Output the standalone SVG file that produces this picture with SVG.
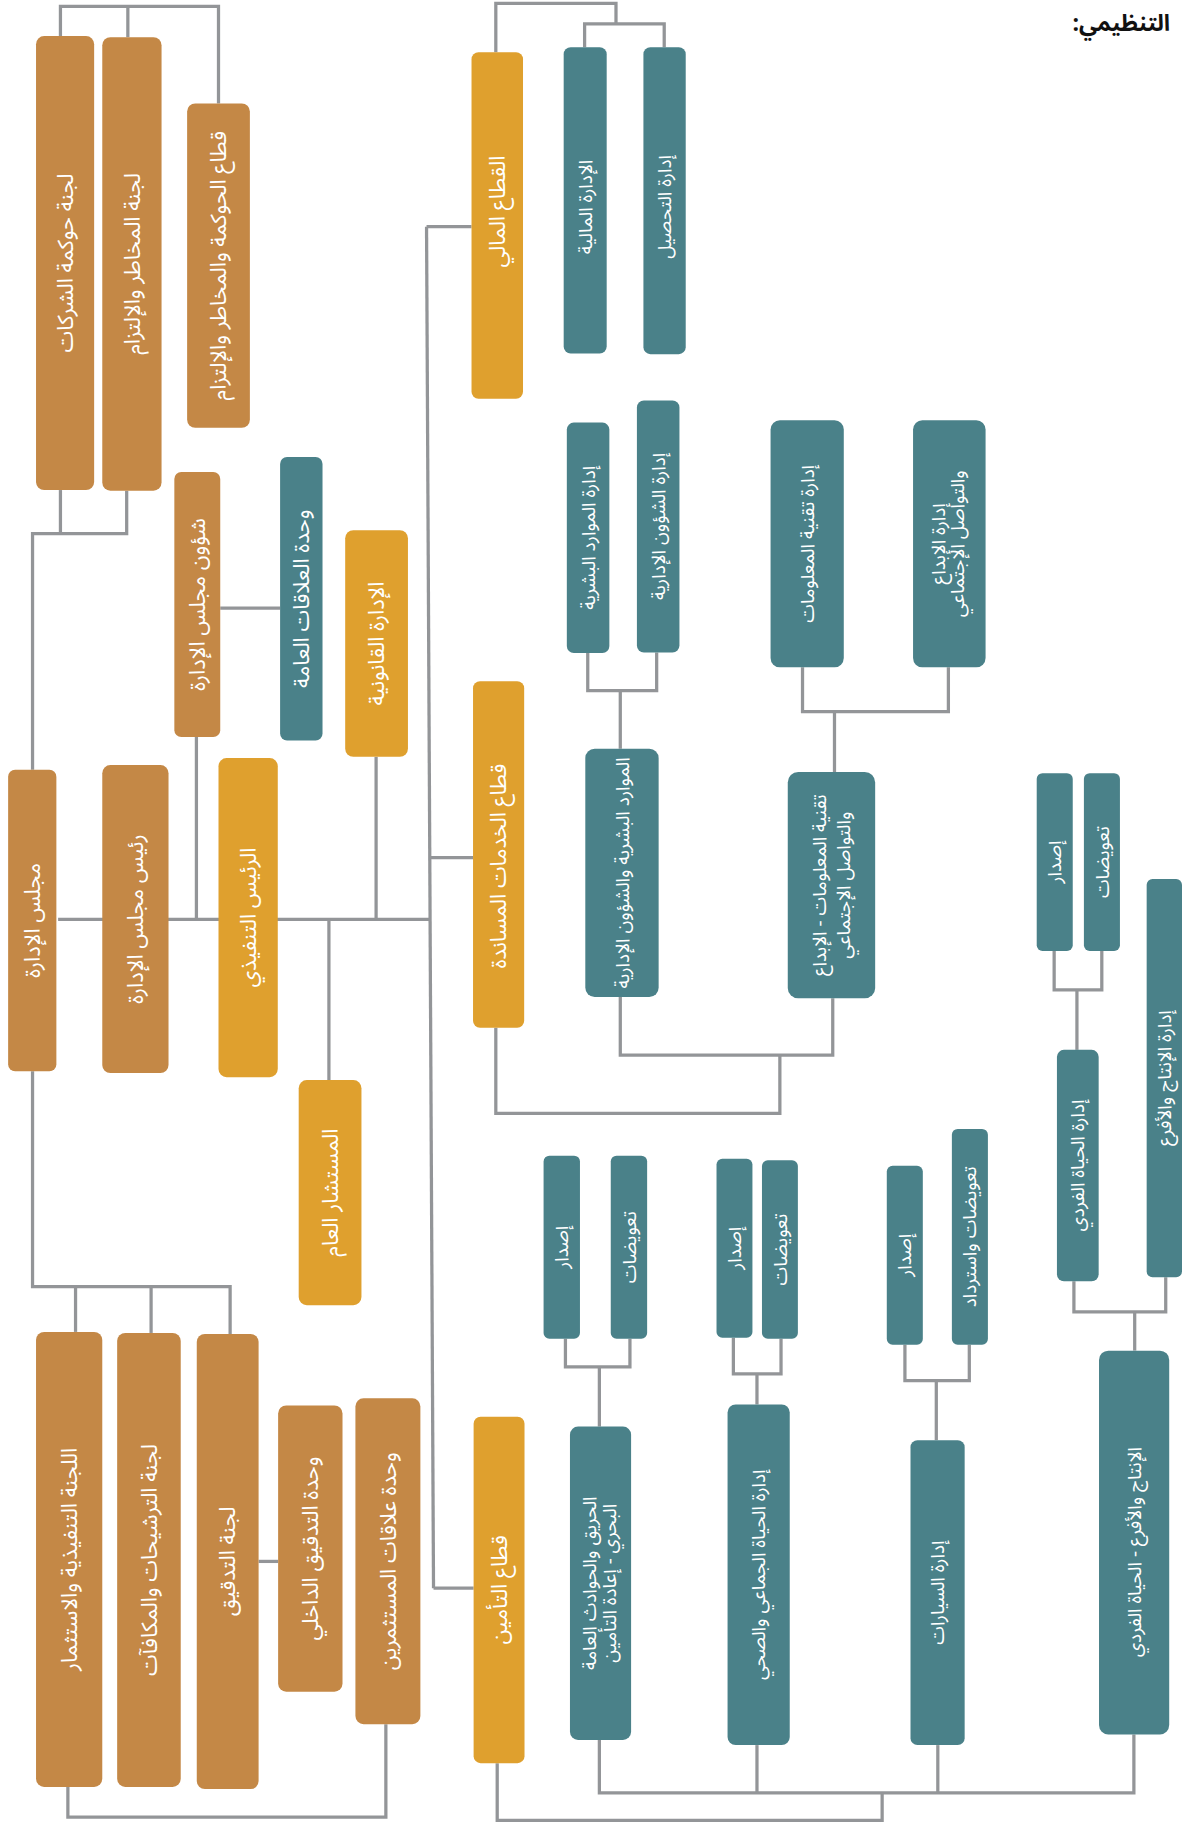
<svg xmlns="http://www.w3.org/2000/svg" width="1182" height="1823" viewBox="0 0 1182 1823">
<style>
.b{fill:#C48846}
.g{fill:#DFA02E}
.t{fill:#4A8189}
.lbl{fill:#ffffff;font-family:"Noto Sans Arabic","DejaVu Sans",sans-serif;font-size:18.8px;text-anchor:middle}
.sm{font-size:16.2px}
#connectors path{fill:none;stroke:#939598;stroke-width:2.8}
.title{fill:#111;font-family:"Noto Sans Arabic","DejaVu Sans",sans-serif;font-size:23px;font-weight:bold}
</style>
<rect width="1182" height="1823" fill="#ffffff"/>
<text class="title" x="1170" y="31" direction="rtl" text-anchor="start">التنظيمي:</text>
<g transform="scale(1.16224 1.16263)">
<g id="connectors">
<path d="M52,31 V5.5 H188 V89"/>
<path d="M110,32 V5.5"/>
<path d="M28,662 V459 H109 V422"/>
<path d="M52,421.5 V459"/>
<path d="M28,921.5 V1106.7 H198 V1147.3"/>
<path d="M65,1106.7 V1145.6"/>
<path d="M130,1106.7 V1146.5"/>
<path d="M222.5,1343 H239.3"/>
<path d="M58.4,1537 V1563 H332 V1483"/>
<path d="M50,790.8 H370"/>
<path d="M169,634 V790.8"/>
<path d="M323.6,651 V790.8"/>
<path d="M283,790.8 V929"/>
<path d="M189.5,523 H241"/>
<path d="M367,195 L373,1366"/>
<path d="M367,195 H405.7"/>
<path d="M369.7,737.6 H407"/>
<path d="M373,1366 H407.5"/>
<path d="M426.6,45 V3 H530 V20.6"/>
<path d="M503,40.7 V20.6 H571.5 V40.7"/>
<path d="M505.7,561.7 V594 H565 V561.2"/>
<path d="M533.7,594 V644"/>
<path d="M690.5,574 V612 H816 V574"/>
<path d="M718,612 V664"/>
<path d="M533.7,857.6 V907.6 H716.5 V858.7"/>
<path d="M671,907.6 V957.6 H426.6 V884"/>
<path d="M907,818 V851.5 H948 V818"/>
<path d="M926.6,851.5 V903"/>
<path d="M924,1102 V1128.3 H1003 V1098.6"/>
<path d="M976.3,1128.3 V1161.7"/>
<path d="M486.5,1151.5 V1175.6 H542 V1151.5"/>
<path d="M515.7,1175.6 V1227"/>
<path d="M631,1150.6 V1181.6 H672 V1151.5"/>
<path d="M651.3,1181.6 V1208"/>
<path d="M778.6,1156.6 V1187.6 H834 V1156.6"/>
<path d="M805.6,1187.6 V1238.7"/>
<path d="M515.7,1496.5 V1542 H975.6 V1491.8"/>
<path d="M651.3,1501 V1542"/>
<path d="M806.9,1501 V1542"/>
<path d="M759,1542 V1565.8 H427.8 V1516.5"/>
</g>

<g id="n-a"><rect class="b" x="31" y="31" width="50" height="390.5" rx="7"/><text class="lbl" dy="0.35em" transform="translate(56,226.25) rotate(-90)">لجنة حوكمة الشركات</text></g>
<g id="n-b"><rect class="b" x="88" y="32" width="51" height="390" rx="7"/><text class="lbl" dy="0.35em" transform="translate(113.5,227) rotate(-90)">لجنة المخاطر والإلتزام</text></g>
<g id="n-c"><rect class="b" x="161" y="89" width="54" height="279" rx="7"/><text class="lbl" dy="0.35em" transform="translate(188,228.5) rotate(-90)">قطاع الحوكمة والمخاطر والإلتزام</text></g>
<g id="n-d"><rect class="b" x="7" y="662" width="41.5" height="259.5" rx="6"/><text class="lbl" dy="0.35em" transform="translate(27.75,791.75) rotate(-90)">مجلس الإدارة</text></g>
<g id="n-e"><rect class="b" x="88" y="658" width="57" height="265" rx="7"/><text class="lbl" dy="0.35em" transform="translate(116.5,790.5) rotate(-90)">رئيس مجلس الإدارة</text></g>
<g id="n-f"><rect class="g" x="188" y="652" width="51" height="274.5" rx="7"/><text class="lbl" dy="0.35em" transform="translate(213.5,789.25) rotate(-90)">الرئيس التنفيذي</text></g>
<g id="n-g"><rect class="b" x="150" y="406" width="39.5" height="228" rx="6"/><text class="lbl" dy="0.35em" transform="translate(169.75,520) rotate(-90)">شؤون مجلس الإدارة</text></g>
<g id="n-h"><rect class="t" x="241" y="393" width="36.5" height="244" rx="6"/><text class="lbl" dy="0.35em" transform="translate(259.25,515) rotate(-90)">وحدة العلاقات العامة</text></g>
<g id="n-i"><rect class="g" x="297" y="456" width="54" height="195" rx="7"/><text class="lbl" dy="0.35em" transform="translate(324,553.5) rotate(-90)">الإدارة القانونية</text></g>
<g id="n-j"><rect class="g" x="407" y="586" width="44" height="298" rx="6"/><text class="lbl" dy="0.35em" transform="translate(429,745) rotate(-90)">قطاع الخدمات المساندة</text></g>
<g id="n-k"><rect class="g" x="257" y="929" width="54" height="193.6" rx="7"/><text class="lbl" dy="0.35em" transform="translate(284,1025.8) rotate(-90)">المستشار العام</text></g>
<g id="n-l"><rect class="g" x="405.7" y="45" width="44.3" height="298" rx="6"/><text class="lbl" dy="0.35em" transform="translate(427.85,182) rotate(-90)">القطاع المالي</text></g>
<g id="n-m"><rect class="t" x="485" y="40.7" width="37" height="263.3" rx="6"/><text class="lbl sm" dy="0.35em" transform="translate(503.5,178) rotate(-90)">الإدارة المالية</text></g>
<g id="n-n"><rect class="t" x="553.6" y="40.7" width="36.4" height="263.9" rx="6"/><text class="lbl sm" dy="0.35em" transform="translate(571.8,178) rotate(-90)">إدارة التحصيل</text></g>
<g id="n-o"><rect class="t" x="487.7" y="363.5" width="36.6" height="198.2" rx="6"/><text class="lbl sm" dy="0.35em" transform="translate(506,462.6) rotate(-90)">إدارة الموارد البشرية</text></g>
<g id="n-p"><rect class="t" x="548" y="344.4" width="36.6" height="216.8" rx="6"/><text class="lbl sm" dy="0.35em" transform="translate(566.3,452.8) rotate(-90)">إدارة الشؤون الإدارية</text></g>
<g id="n-q"><rect class="t" x="503.6" y="644" width="63.1" height="213.6" rx="8"/><text class="lbl sm" dy="0.35em" transform="translate(535.15,750.8) rotate(-90)">الموارد البشرية والشؤون الإدارية</text></g>
<g id="n-r"><rect class="t" x="663" y="361.5" width="63" height="212.5" rx="8"/><text class="lbl sm" dy="0.35em" transform="translate(694.5,467.75) rotate(-90)">إدارة تقنية المعلومات</text></g>
<g id="n-s"><rect class="t" x="785.6" y="361.5" width="62.4" height="212.5" rx="8"/><text class="lbl sm" transform="translate(816.8,467.75) rotate(-90)"><tspan x="0" dy="-0.25em">إدارة الإبداع</tspan><tspan x="0" dy="1.05em">والتواصل الإجتماعي</tspan></text></g>
<g id="n-t"><rect class="t" x="677.8" y="664" width="75.2" height="194.7" rx="9"/><text class="lbl sm" transform="translate(715.4,761.35) rotate(-90)"><tspan x="0" dy="-0.3em">تقنية المعلومات - الإبداع</tspan><tspan x="0" dy="1.3em">والتواصل الإجتماعي</tspan></text></g>
<g id="n-u"><rect class="t" x="892" y="665" width="31" height="153" rx="5"/><text class="lbl sm" dy="0.35em" transform="translate(907.5,741.5) rotate(-90)">إصدار</text></g>
<g id="n-v"><rect class="t" x="932.6" y="665" width="31" height="153" rx="5"/><text class="lbl sm" dy="0.35em" transform="translate(948.1,741.5) rotate(-90)">تعويضات</text></g>
<g id="n-w"><rect class="t" x="909.4" y="903" width="35.9" height="199" rx="6"/><text class="lbl sm" dy="0.35em" transform="translate(927.35,1002.5) rotate(-90)">إدارة الحياة الفردي</text></g>
<g id="n-x"><rect class="t" x="986.6" y="756" width="30.4" height="342.6" rx="5"/><text class="lbl sm" dy="0.35em" transform="translate(1001.8,927.3) rotate(-90)">إدارة الإنتاج والأفرع</text></g>
<g id="n-y"><rect class="t" x="945.6" y="1161.7" width="60.4" height="330.1" rx="8"/><text class="lbl sm" dy="0.35em" transform="translate(975.8,1335) rotate(-90)">الإنتاج والأفرع - الحياة الفردي</text></g>
<g id="n-z1"><rect class="t" x="467.7" y="994" width="31.3" height="157.5" rx="5"/><text class="lbl sm" dy="0.35em" transform="translate(483.35,1072.75) rotate(-90)">إصدار</text></g>
<g id="n-z2"><rect class="t" x="525.5" y="994" width="31.3" height="157.5" rx="5"/><text class="lbl sm" dy="0.35em" transform="translate(541.15,1072.75) rotate(-90)">تعويضات</text></g>
<g id="n-aa"><rect class="t" x="490.4" y="1227" width="52.6" height="269.5" rx="7"/><text class="lbl sm" transform="translate(516.7,1361.75) rotate(-90)"><tspan x="0" dy="-0.25em">الحريق والحوادث العامة</tspan><tspan x="0" dy="1.05em">البحري - إعادة التأمين</tspan></text></g>
<g id="n-ab1"><rect class="t" x="616.5" y="996.7" width="30.9" height="153.9" rx="5"/><text class="lbl sm" dy="0.35em" transform="translate(631.95,1073.65) rotate(-90)">إصدار</text></g>
<g id="n-ab2"><rect class="t" x="655.6" y="998" width="30.9" height="153.5" rx="5"/><text class="lbl sm" dy="0.35em" transform="translate(671.05,1074.75) rotate(-90)">تعويضات</text></g>
<g id="n-ac"><rect class="t" x="626" y="1208" width="53.5" height="293" rx="7"/><text class="lbl sm" dy="0.35em" transform="translate(652.75,1354.5) rotate(-90)">إدارة الحياة الجماعي والصحي</text></g>
<g id="n-ad1"><rect class="t" x="763" y="1002.7" width="31" height="153.9" rx="5"/><text class="lbl sm" dy="0.35em" transform="translate(778.5,1079.65) rotate(-90)">إصدار</text></g>
<g id="n-ad2"><rect class="t" x="819" y="971" width="31" height="185.6" rx="5"/><text class="lbl sm" dy="0.35em" transform="translate(834.5,1063.8) rotate(-90)">تعويضات واسترداد</text></g>
<g id="n-ae"><rect class="t" x="783.4" y="1238.7" width="46.6" height="262.3" rx="6"/><text class="lbl sm" dy="0.35em" transform="translate(806.7,1369.85) rotate(-90)">إدارة السيارات</text></g>
<g id="n-af"><rect class="g" x="407.5" y="1218.6" width="43.8" height="297.9" rx="6"/><text class="lbl" dy="0.35em" transform="translate(429.4,1367.55) rotate(-90)">قطاع التأمين</text></g>
<g id="n-ag"><rect class="b" x="31" y="1145.6" width="57" height="391.4" rx="7"/><text class="lbl" dy="0.35em" transform="translate(59.5,1341.3) rotate(-90)">اللجنة التنفيذية والاستثمار</text></g>
<g id="n-ah"><rect class="b" x="100.8" y="1146.5" width="54.7" height="390.5" rx="7"/><text class="lbl" dy="0.35em" transform="translate(128.15,1341.75) rotate(-90)">لجنة الترشيحات والمكافآت</text></g>
<g id="n-ai"><rect class="b" x="169.3" y="1147.3" width="53.2" height="391.5" rx="7"/><text class="lbl" dy="0.35em" transform="translate(195.9,1343.05) rotate(-90)">لجنة التدقيق</text></g>
<g id="n-aj"><rect class="b" x="239.3" y="1208.8" width="55.4" height="246.2" rx="7"/><text class="lbl" dy="0.35em" transform="translate(267,1331.9) rotate(-90)">وحدة التدقيق الداخلي</text></g>
<g id="n-ak"><rect class="b" x="305.8" y="1202.7" width="55.9" height="280.3" rx="7"/><text class="lbl" dy="0.35em" transform="translate(333.75,1342.85) rotate(-90)">وحدة علاقات المستثمرين</text></g>
</g>
</svg>
